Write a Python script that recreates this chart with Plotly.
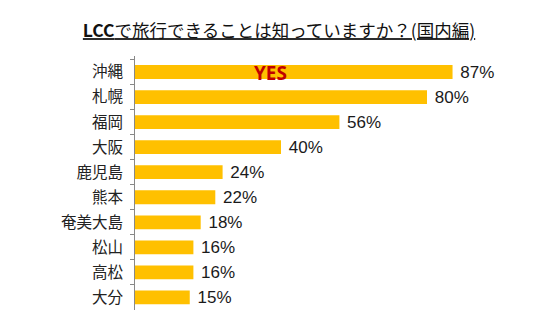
import plotly.graph_objects as go

categories = ["沖縄", "札幌", "福岡", "大阪", "鹿児島", "熊本", "奄美大島", "松山", "高松", "大分"]
values = [87, 80, 56, 40, 24, 22, 18, 16, 16, 15]
title_lead = "LCC"
title_rest = "で旅行できることは知っていますか？(国内編)"
note_text = "YES"

fig = go.Figure()
fig.add_trace(go.Bar(
    y=categories, x=values, orientation="h",
    marker=dict(color="#FFC000", line=dict(width=0)),
    text=[f"{v}%" for v in values],
    texttemplate=" %{text}",
    textposition="outside",
    constraintext="none",
    textfont=dict(family="Liberation Sans, Arial", size=17, color="#1a1a1a"),
    cliponaxis=False,
))
fig.add_annotation(x=37, y=categories[0], xref="x", yref="y", yshift=-1, text=f"<b>{note_text}</b>",
                   showarrow=False, font=dict(family="Open Sans, Liberation Sans", size=19, color="#C00000"))
fig.update_layout(
    width=545, height=325,
    margin=dict(l=135, r=45, t=56, b=15),
    paper_bgcolor="white", plot_bgcolor="white",
    bargap=0.45,
    showlegend=False,
    title=dict(text=f"<u><b>{title_lead}</b>{title_rest}</u>", x=0.512, xref="container", xanchor="center",
               y=1 - 31/325, yref="container", yanchor="middle",
               font=dict(family="Noto Sans CJK JP", size=17.5, color="#111")),
)
fig.update_xaxes(range=[0, 100], visible=False, showgrid=False, zeroline=False)
fig.update_yaxes(autorange="reversed", type="category", showline=True, linecolor="#888", linewidth=1,
                 ticks="outside", tickson="boundaries", ticklen=4, tickcolor="#888",
                 tickfont=dict(family="Noto Sans CJK JP", size=15.5, color="#222"),
                 ticklabelstandoff=8, showgrid=False)
fig.write_html("out.html")
